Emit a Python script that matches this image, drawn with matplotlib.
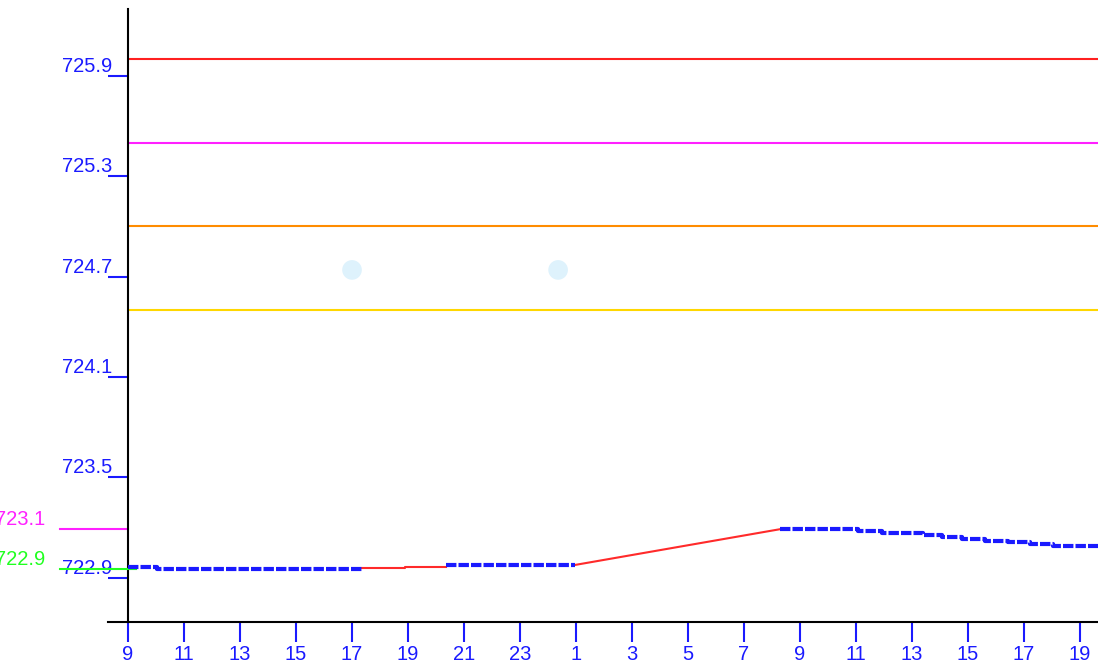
import matplotlib
matplotlib.use("Agg")
import matplotlib.pyplot as plt
import numpy as np

# ---- data (hours since 9:00 of day 1) ----
blue1_t = [0.0, 1.04, 8.36]
blue1_v = [722.962, 722.952, 722.952]
red1_t = [8.36, 9.90, 11.36]
red1_v = [722.955, 722.965, 722.965]
blue2_t = [11.36, 15.96]
blue2_v = [722.976, 722.976]
red2_t = [15.96, 23.29]
red2_v = [722.976, 723.190]
blue3_t = [23.29, 26.07, 26.93, 28.39, 29.07, 29.79, 30.61, 31.43, 32.21, 33.04, 34.64]
blue3_v = [723.190, 723.177, 723.166, 723.156, 723.144, 723.132, 723.122, 723.111, 723.101, 723.087, 723.087]

dots_t = [8.0, 15.36]
dots_v = [724.74, 724.74]

level_values = [726.0, 725.5, 725.0, 724.5]
level_colors = ["#ff2020", "#ff20ff", "#ff8c00", "#ffd700"]

max_value = 723.19
min_value = 722.95
max_label = "723.1"
min_label = "722.9"

yticks = [722.9, 723.5, 724.1, 724.7, 725.3, 725.9]
ytick_labels = ["722.9", "723.5", "724.1", "724.7", "725.3", "725.9"]
xticks = list(range(0, 35, 2))
xtick_labels = [str((9 + t) % 24) for t in xticks]

W, H = 1098, 669
fig = plt.figure(figsize=(W / 100, H / 100), dpi=100)
ax = fig.add_axes([128 / W, (H - 622) / H, 970 / W, 613 / H])
ax.set_xlim(0, 34.64)
ax.set_ylim(722.635, 726.30)

BLUE = "#1a1aff"
FONT = "Liberation Sans"
FS = 14.5
PX = 0.72  # points per pixel

for v, c in zip(level_values, level_colors):
    ax.axhline(v, color=c, lw=1.5, zorder=2)

ax.plot(red1_t, red1_v, color="#ff2a2a", lw=1.5, drawstyle="steps-post", zorder=3)
ax.plot(red2_t, red2_v, color="#ff2a2a", lw=1.5, zorder=3)
for t, v in [(blue1_t, blue1_v), (blue2_t, blue2_v), (blue3_t, blue3_v)]:
    ax.plot(t, v, color=BLUE, lw=3, drawstyle="steps-post",
            linestyle=(0, (2.5, 0.5)), zorder=4)

ax.scatter(dots_t, dots_v, s=200, color="#def2fc", edgecolors="none", zorder=2)

# spines
for s in ["top", "right"]:
    ax.spines[s].set_visible(False)
ax.spines["left"].set_color("black")
ax.spines["bottom"].set_color("black")
ax.spines["left"].set_linewidth(1.5)
ax.spines["bottom"].set_linewidth(1.5)
# extend x-axis to the left
ax.plot([-20 / 970 * 34.64, 0], [722.635, 722.635], color="black", lw=1.5,
        clip_on=False, zorder=5)

ax.set_xticks(xticks)
ax.set_xticklabels(xtick_labels)
ax.tick_params(axis="x", direction="out", length=20 * PX, width=1.5, color=BLUE,
               labelcolor=BLUE, labelsize=FS, pad=3 * PX)
ax.set_yticks(yticks)
ax.set_yticklabels(ytick_labels)
ax.tick_params(axis="y", direction="out", length=20 * PX, width=1.5, color=BLUE,
               labelcolor=BLUE, labelsize=FS, pad=-4 * PX)
for lbl in ax.get_yticklabels() + ax.get_xticklabels():
    lbl.set_fontfamily(FONT)
for lbl in ax.get_yticklabels():
    lbl.set_verticalalignment("bottom")

# max / min markers to the left of the axis
xl = -68 / 970 * 34.64
ax.plot([xl, 0], [max_value, max_value], color="#ff20ff", lw=1.5, clip_on=False)
ax.plot([xl, 0.3], [min_value, min_value], color="#20ff20", lw=1.5, clip_on=False, zorder=3)
ax.text(-83 / 970 * 34.64, max_value + 0.004, max_label, color="#ff20ff", fontsize=FS,
        family=FONT, ha="right", va="bottom", clip_on=False)
ax.text(-83 / 970 * 34.64, min_value + 0.004, min_label, color="#20ff20", fontsize=FS,
        family=FONT, ha="right", va="bottom", clip_on=False)

fig.savefig("out.png", dpi=100)
